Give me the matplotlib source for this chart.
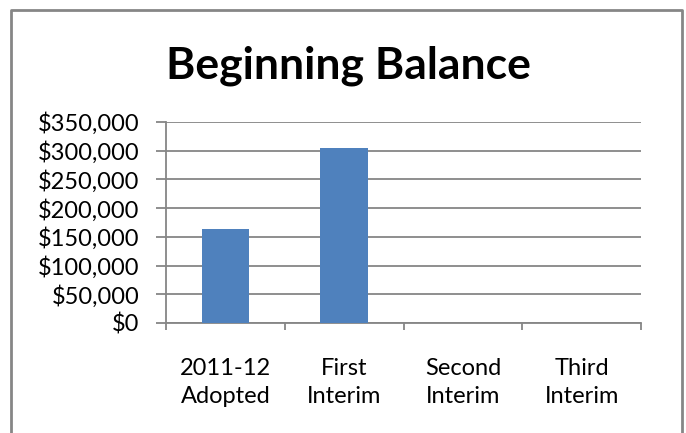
import matplotlib
matplotlib.use("Agg")
import matplotlib.pyplot as plt
from matplotlib.lines import Line2D
from matplotlib.ticker import FuncFormatter, MultipleLocator

# --- Data -------------------------------------------------------------------
categories = ["2011-12\nAdopted", "First\nInterim", "Second\nInterim", "Third\nInterim"]
balances = [163400, 304700, 0, 0]
title = "Beginning Balance"

# --- Style ------------------------------------------------------------------
BAR_COLOR = "#4F81BD"
AXIS_GRAY = "#868686"
FONT = "Lato"

plt.rcParams["font.family"] = [FONT, "DejaVu Sans"]

fig = plt.figure(figsize=(6.86, 4.33), dpi=100)
ax = fig.add_axes([166 / 686, 1 - 323 / 433, (641 - 166) / 686, (323 - 122) / 433])

x = range(len(categories))
ax.bar(x, balances, width=0.4, color=BAR_COLOR, zorder=3)

ax.set_xlim(-0.5, len(categories) - 0.5)
ax.set_ylim(0, 350000)
ax.yaxis.set_major_locator(MultipleLocator(50000))
ax.yaxis.set_major_formatter(FuncFormatter(lambda v, _: f"${v:,.0f}"))
ax.grid(axis="y", color=AXIS_GRAY, linewidth=1.3, zorder=0)

# category labels sit between the boundary ticks
ax.set_xticks([i - 0.5 for i in range(len(categories) + 1)])
ax.set_xticklabels([])
ax.set_xticks(list(x), minor=True)
ax.set_xticklabels(categories, minor=True, fontsize=17, linespacing=1.4)
ax.tick_params(axis="x", which="minor", length=0, pad=25)
ax.tick_params(axis="x", which="major", length=5, width=1.3, color=AXIS_GRAY)
ax.tick_params(axis="y", length=7, width=1.3, color=AXIS_GRAY, labelsize=17, pad=12)

for side in ("top", "right"):
    ax.spines[side].set_visible(False)
for side in ("left", "bottom"):
    ax.spines[side].set_color(AXIS_GRAY)
    ax.spines[side].set_linewidth(1.3)

fig.text(348 / 686, 1 - 78 / 433, title, ha="center", va="baseline",
         fontsize=32, fontweight="bold")

# chart frame (bottom edge runs off the picture)
frame = [(11, 440), (11, 10), (682, 10), (682, 440)]
fig.add_artist(Line2D([p[0] / 686 for p in frame], [1 - p[1] / 433 for p in frame],
                      color=AXIS_GRAY, linewidth=2, transform=fig.transFigure))

fig.savefig("out.png", dpi=100)
